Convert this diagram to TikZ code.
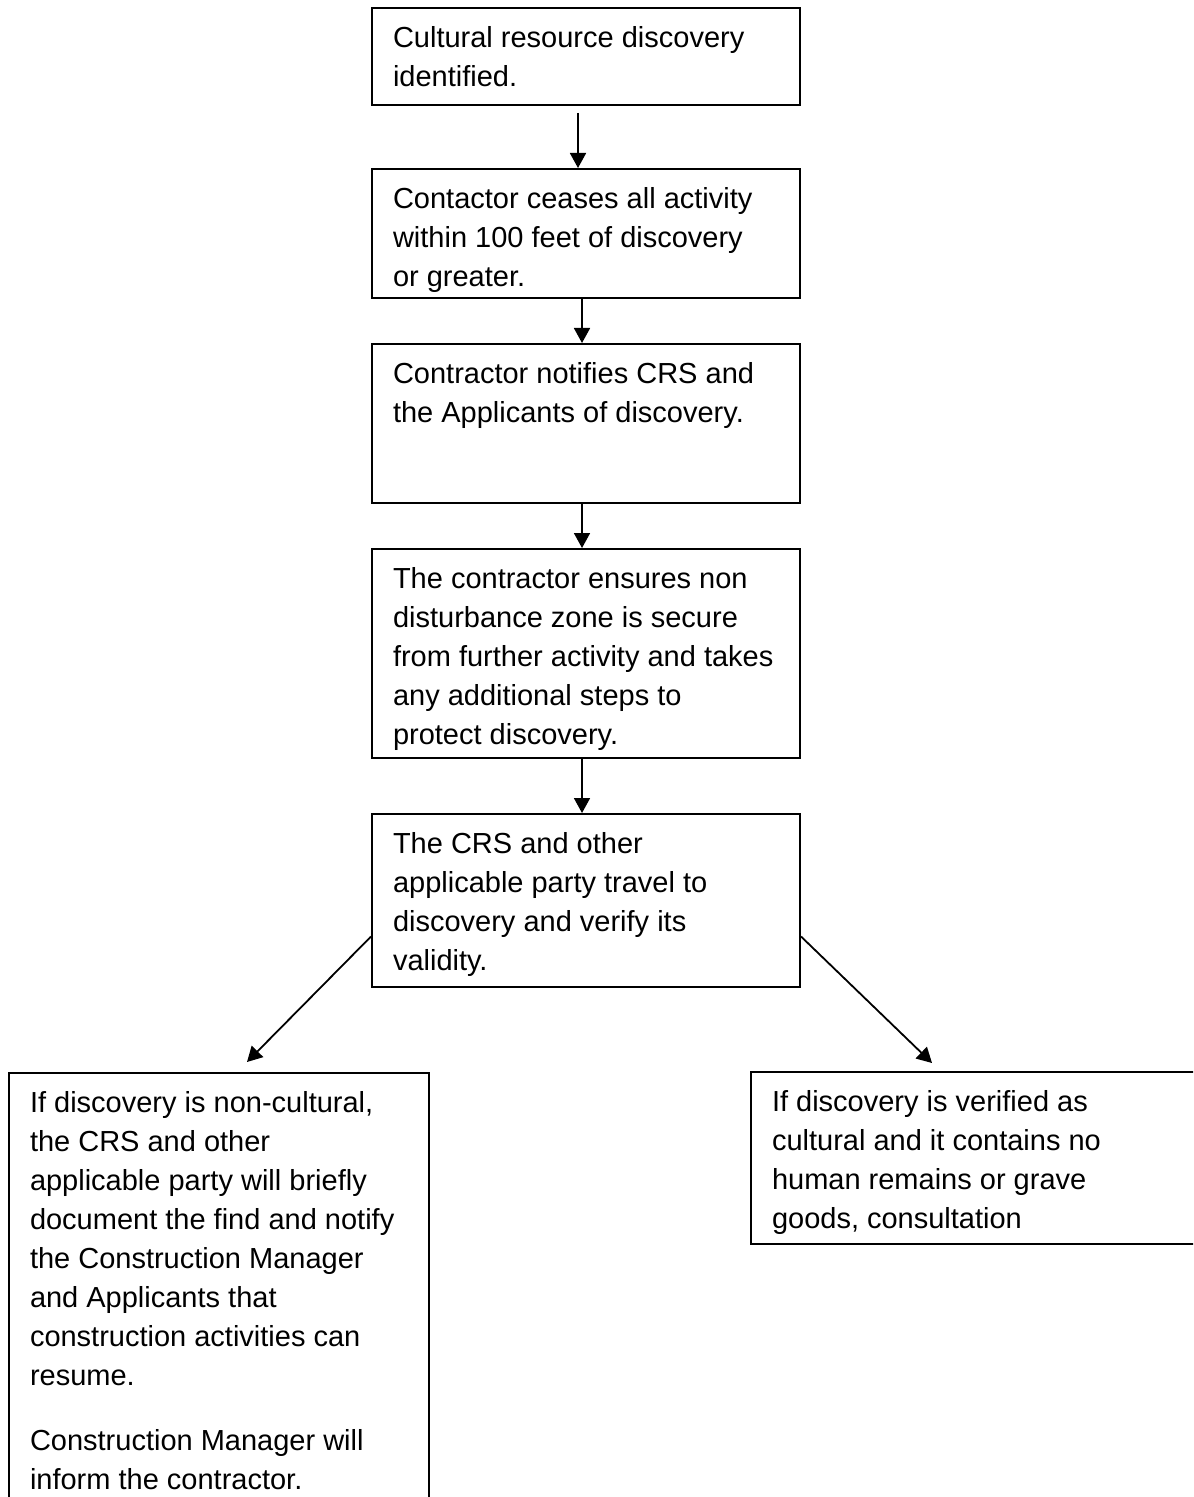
\documentclass[tikz,border=0pt]{standalone}
\usepackage{fontspec}
\setmainfont{Liberation Sans}
\usetikzlibrary{arrows.meta,calc}

\newcommand{\boxtext}[3]{\parbox[t][#2][t]{#1}{\raggedright\strut #3}}

\begin{document}
\begin{tikzpicture}[x=0.5pt,y=-0.5pt]

    \tikzset{
      stepbox/.style={
        draw,
        line width=1pt,
        rectangle,
        anchor=north west,
        inner xsep=10.5pt,
        inner ysep=6pt,
        font=\fontsize{14.5}{19.5}\selectfont,
      },
      flow/.style={-{Triangle[width=8pt,length=7.5pt]},line width=0.9pt},
    }
    \useasboundingbox (0,0) rectangle (1193,1497);
    \clip (0,0) rectangle (1193,1497);
	\node[stepbox] (b1) at (371,7) {\boxtext{193pt}{36.5pt}{Cultural resource discovery\\identified.}};
	\node[stepbox] (b2) at (371,168) {\boxtext{193pt}{52.5pt}{Contactor ceases all activity\\within 100 feet of discovery\\or greater.}};
	\node[stepbox] (b3) at (371,343) {\boxtext{193pt}{67.5pt}{Contractor notifies CRS and\\the Applicants of discovery.}};
	\node[stepbox] (b4) at (371,548) {\boxtext{193pt}{92.5pt}{The contractor ensures non\\disturbance zone is secure\\from further activity and takes\\any additional steps to\\protect discovery.}};
	\node[stepbox] (b5) at (371,813) {\boxtext{193pt}{74.5pt}{The CRS and other\\applicable party travel to\\discovery and verify its\\validity.}};
	\node[stepbox] (b6) at (8,1072) {\boxtext{189pt}{230pt}{If discovery is non-cultural,\\the CRS and other\\applicable party will briefly\\document the find and notify\\the Construction Manager\\and Applicants that\\construction activities can\\resume.\\[13pt]Construction Manager will\\inform the contractor.}};
	\node[stepbox] (b7) at (750,1071) {\boxtext{219pt}{74pt}{If discovery is verified as\\cultural and it contains no\\human remains or grave\\goods, consultation}};

	\draw[flow] ($(b1.south)+(-8,7)$) -- ($(b2.north)+(-8,0)$);
	\draw[flow] ($(b2.south)+(-4,0)$) -- ($(b3.north)+(-4,0)$);
	\draw[flow] ($(b3.south)+(-4,0)$) -- ($(b4.north)+(-4,0)$);
	\draw[flow] ($(b4.south)+(-4,0)$) -- ($(b5.north)+(-4,0)$);
	\draw[flow] ($(b5.west)+(0,36)$) -- ($(b6.north)+(28,-10)$);
	\draw[flow] ($(b5.east)+(0,36)$) -- ($(b7.north west)+(182,-8)$);

\end{tikzpicture}
\end{document}
